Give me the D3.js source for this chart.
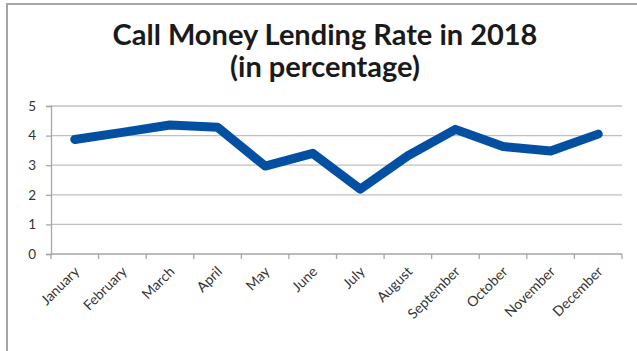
<!DOCTYPE html>
<html>
<head>
<meta charset="utf-8">
<script src="https://cdn.jsdelivr.net/npm/d3@7"></script>
<style>
  html, body { margin: 0; padding: 0; background: #fff; }
  svg { display: block; }
</style>
</head>
<body>
<svg id="chart" width="637" height="351"></svg>
<script>
// Monthly call money lending rate, 2018 (%)
const months = ["January", "February", "March", "April", "May", "June",
                "July", "August", "September", "October", "November", "December"];
const rates = [3.87, 4.11, 4.36, 4.28, 2.97, 3.40, 2.19, 3.32, 4.21, 3.63, 3.48, 4.05];
const yTicks = [0, 1, 2, 3, 4, 5];
const titleLines = ["Call Money Lending Rate in 2018", "(in percentage)"];

const svg = d3.select("#chart");
const W = 637, H = 351;
const plot = { left: 51, right: 622, top: 106, bottom: 254 };

// chart frame
svg.append("rect")
  .attr("x", 7).attr("y", 4)
  .attr("width", W).attr("height", H)
  .attr("fill", "#fff")
  .attr("stroke", "#a6a6a6").attr("stroke-width", 2);

const x = d3.scaleBand().domain(months).range([plot.left, plot.right]);
const y = d3.scaleLinear().domain([0, 5]).range([plot.bottom, plot.top]);

// horizontal gridlines
svg.append("g")
  .selectAll("line")
  .data(yTicks.filter(d => d > 0))
  .join("line")
  .attr("x1", plot.left).attr("x2", plot.right)
  .attr("y1", d => y(d)).attr("y2", d => y(d))
  .attr("stroke", "#c0c0c0").attr("stroke-width", 1.3);

// y axis
const yAxis = svg.append("g")
  .attr("transform", `translate(${plot.left},0)`)
  .call(d3.axisLeft(y).tickValues(yTicks).tickSize(5).tickPadding(10).tickFormat(d3.format("d")));
yAxis.select(".domain").attr("stroke", "#a6a6a6").attr("stroke-width", 1.3);
yAxis.selectAll(".tick line").attr("stroke", "#a6a6a6").attr("stroke-width", 1.3);
yAxis.selectAll("text")
  .attr("fill", "#333")
  .style("font-family", "Lato, 'Open Sans', sans-serif")
  .style("font-size", "13.5px");

// x axis: ticks sit on category boundaries
const boundaries = months.map(m => x(m)).concat([plot.right]);
const xg = svg.append("g");
xg.append("line")
  .attr("x1", plot.left).attr("x2", plot.right)
  .attr("y1", plot.bottom).attr("y2", plot.bottom)
  .attr("stroke", "#a6a6a6").attr("stroke-width", 1.3);
xg.selectAll("line.tk")
  .data(boundaries)
  .join("line")
  .attr("class", "tk")
  .attr("x1", d => d).attr("x2", d => d)
  .attr("y1", plot.bottom).attr("y2", plot.bottom + 5)
  .attr("stroke", "#a6a6a6").attr("stroke-width", 1.3);

// rotated month labels
xg.selectAll("text")
  .data(months)
  .join("text")
  .attr("transform", d => `translate(${x(d) + x.bandwidth() / 2 + 2},${plot.bottom + 15}) rotate(-45)`)
  .attr("text-anchor", "end")
  .attr("dy", "0.35em")
  .attr("fill", "#333")
  .style("font-family", "Lato, 'Open Sans', sans-serif")
  .style("font-size", "14px")
  .text(d => d);

// rate line
const line = d3.line()
  .x((d, i) => x(months[i]) + x.bandwidth() / 2)
  .y(d => y(d));
svg.append("path")
  .datum(rates)
  .attr("d", line)
  .attr("fill", "none")
  .attr("stroke", "#0350a2")
  .attr("stroke-width", 9)
  .attr("stroke-linejoin", "round")
  .attr("stroke-linecap", "round");

// title
svg.append("g")
  .selectAll("text")
  .data(titleLines)
  .join("text")
  .attr("x", 325)
  .attr("y", (d, i) => 45 + i * 32)
  .attr("text-anchor", "middle")
  .attr("fill", "#1a1a1a")
  .style("font-family", "Lato, 'Open Sans', sans-serif")
  .style("font-weight", "bold")
  .style("font-size", "29px")
  .text(d => d);
</script>
</body>
</html>
